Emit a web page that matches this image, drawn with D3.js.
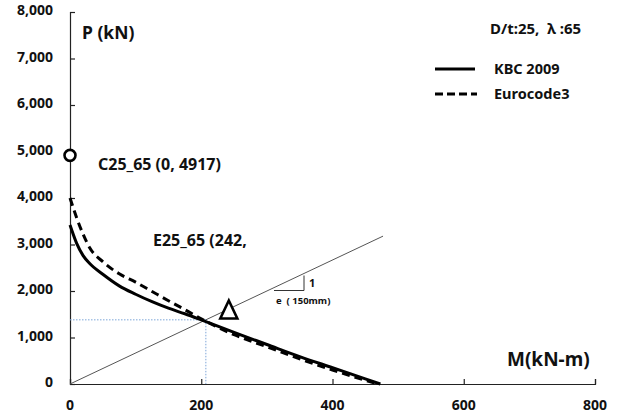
<!DOCTYPE html>
<html><head><meta charset="utf-8">
<script src="https://cdn.jsdelivr.net/npm/d3@7"></script>
<style>
body{margin:0;background:#fff;}
text{font-family:"Noto Sans","DejaVu Sans",sans-serif;font-weight:bold;fill:#111;}
</style></head>
<body>
<svg id="c" width="618" height="417"></svg>
<script>
// ---- data ----
const xTicks = [0, 200, 400, 600, 800];
const yTicks = [0, 1000, 2000, 3000, 4000, 5000, 6000, 7000, 8000];
const kbcM = [0, 10, 20, 30, 50, 75, 100, 125, 150, 175, 200, 250, 300, 350, 400, 450, 473];
const kbcP = [3420, 3030, 2760, 2590, 2360, 2110, 1930, 1770, 1630, 1510, 1380, 1110, 850, 590, 350, 110, 0];
const ecM = [0, 10, 20, 30, 50, 75, 100, 125, 150, 175, 200, 250, 300, 350, 400, 450, 470];
const ecP = [4000, 3580, 3220, 2930, 2630, 2370, 2190, 1990, 1790, 1600, 1400, 1060, 800, 540, 300, 80, 0];
const eccLineM = [0, 477];        // P = M / e, e = 0.15 m
const eccE = 0.15;
const intersect = {M: 207, P: 1380};
const ptC = {M: 0, P: 4917, label: "C25_65 (0, 4917)"};
const ptE = {M: 242, P: 1560, label: "E25_65 (242,"};
const seriesNames = ["KBC 2009", "Eurocode3"];

// ---- layout ----
const svg = d3.select("#c");
const x = d3.scaleLinear().domain([0, 800]).range([70, 595]);
const y = d3.scaleLinear().domain([0, 8000]).range([384, 12]);
const fmt = d3.format(",");

// axes
const gx = svg.append("g").attr("transform", `translate(0,${y(0)})`)
  .call(d3.axisTop(x).tickValues(xTicks).tickSize(5).tickFormat(""));
gx.selectAll("path,line").attr("stroke", "#222").attr("stroke-width", 1.2);
xTicks.forEach(t => svg.append("text").attr("x", x(t)).attr("y", 410)
  .attr("text-anchor", "middle").attr("font-size", 14).text(fmt(t)));

const gy = svg.append("g").attr("transform", `translate(${x(0)},0)`)
  .call(d3.axisRight(y).tickValues(yTicks).tickSize(5).tickFormat(""));
gy.selectAll("path,line").attr("stroke", "#222").attr("stroke-width", 1.2);
yTicks.forEach(t => svg.append("text").attr("x", 53).attr("y", y(t) + 3)
  .attr("text-anchor", "end").attr("font-size", 14).text(fmt(t)));

// eccentricity line
svg.append("line").attr("x1", x(eccLineM[0])).attr("y1", y(eccLineM[0] / eccE))
  .attr("x2", x(eccLineM[1])).attr("y2", y(eccLineM[1] / eccE))
  .attr("stroke", "#555").attr("stroke-width", 1);

// blue dotted guide lines
svg.append("line").attr("x1", x(0)).attr("y1", y(intersect.P)).attr("x2", x(intersect.M)).attr("y2", y(intersect.P))
  .attr("stroke", "#7da6d8").attr("stroke-width", 1).attr("stroke-dasharray", "1.5,1.5");
svg.append("line").attr("x1", x(intersect.M)).attr("y1", y(intersect.P)).attr("x2", x(intersect.M)).attr("y2", y(0))
  .attr("stroke", "#7da6d8").attr("stroke-width", 1).attr("stroke-dasharray", "1.5,1.5");

// curves
const line = d3.line().curve(d3.curveMonotoneX);
svg.append("path").attr("d", line(kbcM.map((m, i) => [x(m), y(kbcP[i])])))
  .attr("fill", "none").attr("stroke", "#000").attr("stroke-width", 3);
svg.append("path").attr("d", line(ecM.map((m, i) => [x(m), y(ecP[i])])))
  .attr("fill", "none").attr("stroke", "#000").attr("stroke-width", 3).attr("stroke-dasharray", "8,5");

// slope indicator
const sx = 304, sy = 290.5;
svg.append("line").attr("x1", sx - 30).attr("y1", sy).attr("x2", sx).attr("y2", sy).attr("stroke", "#333").attr("stroke-width", 1);
svg.append("line").attr("x1", sx).attr("y1", sy).attr("x2", sx).attr("y2", sy - 15).attr("stroke", "#333").attr("stroke-width", 1);
svg.append("text").attr("x", sx + 5).attr("y", sy - 4).attr("font-size", 11).text("1");
svg.append("text").attr("x", sx - 28).attr("y", sy + 13).attr("font-size", 9.5).attr("xml:space", "preserve").text("e  ( 150mm)");

// markers
svg.append("circle").attr("cx", x(ptC.M)).attr("cy", y(ptC.P)).attr("r", 5.5)
  .attr("fill", "#fff").attr("stroke", "#000").attr("stroke-width", 2.6);
const ex = x(ptE.M), ey = y(ptE.P);
svg.append("path").attr("d", `M${ex},${ey - 11}L${ex + 8.5},${ey + 7}L${ex - 8.5},${ey + 7}Z`)
  .attr("fill", "#fff").attr("stroke", "#000").attr("stroke-width", 2.6).attr("stroke-linejoin", "miter");

// annotations
svg.append("text").attr("x", 98).attr("y", y(ptC.P) + 15).attr("font-size", 16).text(ptC.label);
svg.append("text").attr("x", 153).attr("y", 246).attr("font-size", 16).text(ptE.label);
svg.append("text").attr("x", 82).attr("y", 39).attr("font-size", 17.5).text("P (kN)");
svg.append("text").attr("x", 507).attr("y", 366).attr("font-size", 19).text("M(kN-m)");

// legend
svg.append("text").attr("x", 490).attr("y", 34).attr("font-size", 15).attr("xml:space", "preserve").text("D/t:25,  λ :65");
svg.append("line").attr("x1", 435).attr("y1", 69).attr("x2", 475).attr("y2", 69).attr("stroke", "#000").attr("stroke-width", 3);
svg.append("text").attr("x", 494).attr("y", 74).attr("font-size", 14.5).text(seriesNames[0]);
svg.append("line").attr("x1", 435).attr("y1", 94).attr("x2", 477).attr("y2", 94).attr("stroke", "#000").attr("stroke-width", 3).attr("stroke-dasharray", "8,4");
svg.append("text").attr("x", 494).attr("y", 99).attr("font-size", 14.5).text(seriesNames[1]);
</script>
</body></html>
